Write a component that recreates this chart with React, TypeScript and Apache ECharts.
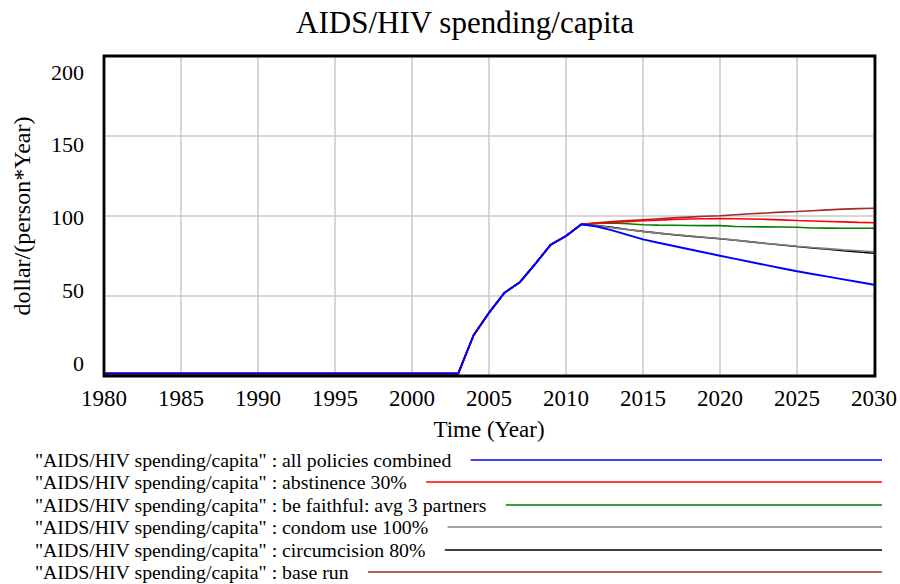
import { useEffect, useRef } from "react";
import * as echarts from "echarts";

// Simulation years (annual saves)
const YEARS = [
  1980, 1981, 1982, 1983, 1984, 1985, 1986, 1987, 1988, 1989,
  1990, 1991, 1992, 1993, 1994, 1995, 1996, 1997, 1998, 1999,
  2000, 2001, 2002, 2003, 2004, 2005, 2006, 2007, 2008, 2009,
  2010, 2011, 2012, 2013, 2014, 2015, 2016, 2017, 2018, 2019,
  2020, 2021, 2022, 2023, 2024, 2025, 2026, 2027, 2028, 2029, 2030,
];

// Shared history 1980-2011 (all runs identical up to the policy start)
const HISTORY = [
  1.5, 1.5, 1.5, 1.5, 1.5, 1.5, 1.5, 1.5, 1.5, 1.5,
  1.5, 1.5, 1.5, 1.5, 1.5, 1.5, 1.5, 1.5, 1.5, 1.5,
  1.5, 1.5, 1.5, 1.5, 25.5, 39.5, 52, 58.6, 70, 82,
  87.5, 94.8,
];

// Projections 2012-2030 per run
const ALL_POLICIES = [93.4, 91.0, 88.2, 85.4, 83.3, 81.3, 79.2, 77.2, 75.2, 73.2, 71.2, 69.3, 67.4, 65.5, 63.8, 62.1, 60.4, 58.7, 57.0];
const ABSTINENCE = [95.5, 96.0, 96.5, 97.0, 97.4, 97.8, 98.1, 98.3, 98.4, 98.3, 98.1, 97.9, 97.6, 97.2, 96.9, 96.6, 96.3, 96.0, 95.8];
const BE_FAITHFUL = [95.4, 95.6, 95.2, 94.5, 94.3, 94.2, 94.1, 94.0, 94.0, 93.4, 93.3, 93.2, 93.1, 93.0, 92.5, 92.4, 92.3, 92.3, 92.3];
const CONDOM_USE = [93.9, 92.7, 91.5, 90.3, 89.3, 88.4, 87.5, 86.7, 85.9, 84.9, 83.9, 82.9, 82.0, 81.1, 80.3, 79.6, 78.9, 78.3, 77.7];
const CIRCUMCISION = [94.1, 92.9, 91.6, 90.4, 89.3, 88.3, 87.4, 86.6, 85.8, 84.8, 83.8, 82.8, 81.9, 80.9, 80.0, 79.2, 78.3, 77.5, 76.7];
const BASE_RUN = [95.8, 96.5, 97.1, 97.7, 98.3, 98.8, 99.3, 99.8, 100.2, 100.8, 101.4, 101.9, 102.4, 102.8, 103.3, 103.8, 104.3, 104.6, 104.8];

const RUN_NAMES = [
  "all policies combined",
  "abstinence 30%",
  "be faithful: avg 3 partners",
  "condom use 100%",
  "circumcision 80%",
  "base run",
];
const RUN_VALUES = [ALL_POLICIES, ABSTINENCE, BE_FAITHFUL, CONDOM_USE, CIRCUMCISION, BASE_RUN];
const RUN_COLORS = ["#0000ff", "#ff0000", "#008000", "#808080", "#000000", "#a32b2b"];

const Y_TICKS = [0, 50, 100, 150, 200];
const VARIABLE = "AIDS/HIV spending/capita";
const FONT = "Liberation Serif";

function measure(text: string, size: number): number {
  const c = document.createElement("canvas").getContext("2d");
  if (!c) return text.length * size * 0.42;
  c.font = `${size}px "Liberation Serif"`;
  return c.measureText(text).width;
}

export default function App() {
  const ref = useRef<HTMLDivElement>(null);

  useEffect(() => {
    if (!ref.current) return;
    const chart = echarts.init(ref.current, undefined, { renderer: "svg" });

    const runData = RUN_VALUES.map((proj) =>
      YEARS.map((yr, i) => [yr, i < HISTORY.length ? HISTORY[i] : proj[i - HISTORY.length]])
    );

    // draw order: base run at the bottom, combined policies on top
    const order = [5, 4, 3, 2, 1, 0];
    const series = order.map((k) => ({
      type: "line" as const,
      name: RUN_NAMES[k],
      data: runData[k],
      showSymbol: false,
      silent: true,
      lineStyle: { color: RUN_COLORS[k], width: k === 0 ? 2 : 1.6 },
      itemStyle: { color: RUN_COLORS[k] },
    }));

    // legend rows under the plot
    const legendSize = 19.8;
    const rowY = [460, 482, 505, 527, 550, 572];
    const legendItems: any[] = [];
    RUN_NAMES.forEach((name, k) => {
      const label = `"${VARIABLE}" : ${name}`;
      const w = measure(label, legendSize);
      legendItems.push({
        type: "text",
        x: 35,
        y: rowY[k],
        style: {
          text: label,
          fontFamily: FONT,
          fontSize: legendSize,
          fill: "#000",
          align: "left",
          verticalAlign: "middle",
        },
      });
      legendItems.push({
        type: "line",
        shape: { x1: 35 + w + 19, y1: rowY[k], x2: 882, y2: rowY[k] },
        style: { stroke: RUN_COLORS[k], lineWidth: 1.6 },
      });
    });

    // black frame drawn over the grid lines
    legendItems.push({
      type: "rect",
      z: 100,
      silent: true,
      shape: { x: 104, y: 56, width: 771, height: 320 },
      style: { fill: "none", stroke: "#000", lineWidth: 2.8 },
    });

    chart.setOption({
      animation: false,
      backgroundColor: "#fff",
      textStyle: { fontFamily: FONT },
      title: {
        text: VARIABLE,
        left: 460,
        top: 2,
        textAlign: "center",
        textStyle: { fontFamily: FONT, fontSize: 31, fontWeight: "normal", color: "#000" },
      },
      grid: {
        left: 104,
        right: 25,
        top: 56,
        bottom: 208,
        show: false,
      },
      xAxis: {
        type: "value",
        min: 1980,
        max: 2030,
        interval: 5,
        name: "Time (Year)",
        nameLocation: "middle",
        nameGap: 42,
        nameTextStyle: { fontFamily: FONT, fontSize: 23, color: "#000" },
        axisLine: { show: false },
        axisTick: { show: false },
        axisLabel: {
          fontFamily: FONT,
          fontSize: 23,
          color: "#000",
          margin: 11,
          formatter: (v: number) => String(v),
        },
        splitLine: { show: true, lineStyle: { color: "#c8c8c8", width: 1.5 } },
      },
      yAxis: [
        {
          type: "value",
          position: "left",
          min: 0,
          max: 200,
          interval: 50,
          name: "dollar/(person*Year)",
          nameLocation: "middle",
          nameGap: 70,
          nameTextStyle: { fontFamily: FONT, fontSize: 24, color: "#000" },
          axisLine: { show: false },
          axisTick: { show: false },
          axisLabel: { show: false },
          splitLine: { show: true, lineStyle: { color: "#c8c8c8", width: 1.5 } },
        },
        {
          // label-only axis: tick labels sit on a slightly compressed scale
          type: "value",
          position: "left",
          min: -8.93,
          max: 211,
          axisLine: { show: false },
          axisTick: { show: false },
          splitLine: { show: false },
          axisLabel: {
            customValues: Y_TICKS,
            fontFamily: FONT,
            fontSize: 22,
            color: "#000",
            margin: 20,
          },
        },
      ],
      series,
      graphic: legendItems,
    });

    return () => chart.dispose();
  }, []);

  return (
    <div
      ref={ref}
      style={{ position: "fixed", left: 0, top: 0, width: 900, height: 584, background: "#fff" }}
    />
  );
}
